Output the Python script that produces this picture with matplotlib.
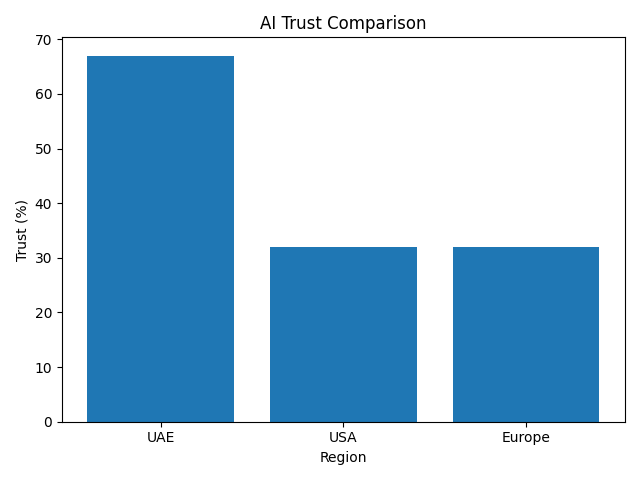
import matplotlib
matplotlib.use("Agg")
import matplotlib.pyplot as plt

regions = ["UAE", "USA", "Europe"]
trust = [67, 32, 32]

fig, ax = plt.subplots(figsize=(6.4, 4.8), dpi=100)
ax.bar(regions, trust, color="#1f77b4")
ax.set_title("AI Trust Comparison")
ax.set_xlabel("Region")
ax.set_ylabel("Trust (%)")
fig.tight_layout()
fig.savefig("out.png")
